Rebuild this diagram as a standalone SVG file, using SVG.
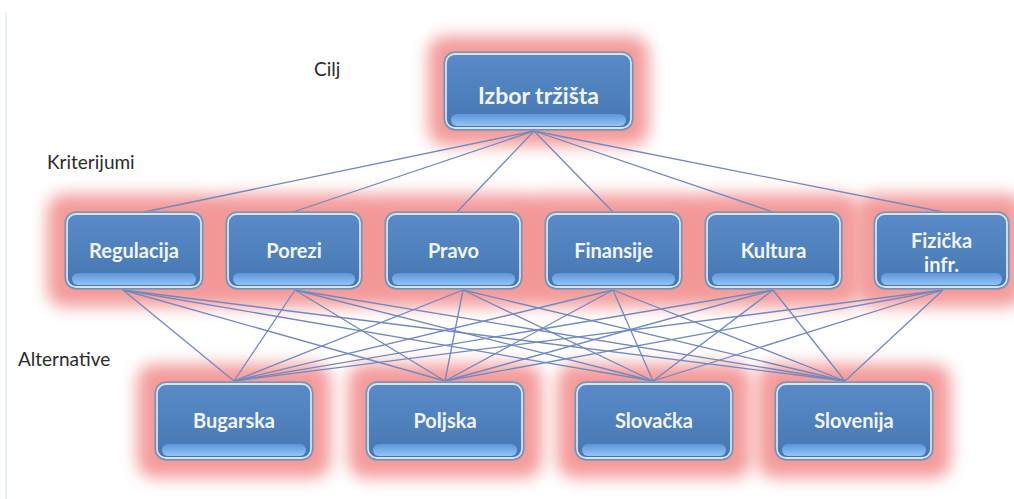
<svg xmlns="http://www.w3.org/2000/svg" width="1014" height="499" viewBox="0 0 1014 499">
  <defs>
    <linearGradient id="boxFill" x1="0" y1="0" x2="0" y2="1">
      <stop offset="0" stop-color="#5a8bc8"/>
      <stop offset="0.5" stop-color="#4f81bd"/>
      <stop offset="1" stop-color="#4676b2"/>
    </linearGradient>
    <linearGradient id="bandFill" x1="0" y1="0" x2="0" y2="1">
      <stop offset="0" stop-color="#5d95d8"/>
      <stop offset="1" stop-color="#92c5f6"/>
    </linearGradient>
    <filter id="glow" x="-30%" y="-40%" width="160%" height="180%">
      <feGaussianBlur stdDeviation="8"/>
    </filter>
    <style>
      .halo { fill: #f28a8a; opacity: 0.85; filter: url(#glow); }
      .box { fill: url(#boxFill); stroke: #8797ab; stroke-width: 1.3; }
      .rim { fill: none; stroke: #e6eef8; stroke-width: 1.8; opacity: 0.9; }
      .band { fill: url(#bandFill); }
      .lbl { font-family: Lato, "Open Sans", "Liberation Sans", sans-serif; font-weight: bold; fill: #f2f6fb; text-anchor: middle; }
      .crit { font-size: 20px; }
      .goal { font-size: 23px; }
      .level { font-family: Lato, "Open Sans", "Liberation Sans", sans-serif; font-size: 19px; fill: #2b2b2b; }
      .link { stroke: #7189c0; stroke-width: 1.3; fill: none; }
    </style>
  </defs>

  <rect width="1014" height="499" fill="#ffffff"/>
  <line x1="6" y1="12" x2="6" y2="499" stroke="#e4f2f2" stroke-width="2"/>

  <!-- level captions -->
  <text class="level" x="314" y="76">Cilj</text>
  <text class="level" x="47" y="169">Kriterijumi</text>
  <text class="level" x="18" y="366">Alternative</text>

  <!-- soft halos behind every box -->
  <g id="halos">
    <rect class="halo" x="428" y="36" width="221" height="110" rx="18"/>
    <rect class="halo" x="47" y="194" width="174" height="113" rx="18"/>
    <rect class="halo" x="208" y="194" width="172" height="113" rx="18"/>
    <rect class="halo" x="367" y="194" width="173" height="113" rx="18"/>
    <rect class="halo" x="527" y="194" width="173" height="113" rx="18"/>
    <rect class="halo" x="687" y="194" width="173" height="113" rx="18"/>
    <rect class="halo" x="856" y="194" width="168" height="113" rx="18"/>
    <rect class="halo" x="137" y="364" width="194" height="114" rx="18"/>
    <rect class="halo" x="348" y="364" width="194" height="114" rx="18"/>
    <rect class="halo" x="557" y="364" width="194" height="114" rx="18"/>
    <rect class="halo" x="757" y="364" width="194" height="114" rx="18"/>
  </g>

  <!-- connectors -->
  <g id="connectors" class="link">
    <!-- goal to criteria -->
    <line x1="534" y1="131" x2="144" y2="212"/>
    <line x1="534" y1="131" x2="293" y2="212"/>
    <line x1="534" y1="131" x2="457" y2="212"/>
    <line x1="534" y1="131" x2="613" y2="212"/>
    <line x1="534" y1="131" x2="773" y2="212"/>
    <line x1="534" y1="131" x2="943" y2="212"/>
    <!-- Regulacija to alternatives -->
    <line x1="123" y1="290" x2="234" y2="381"/>
    <line x1="123" y1="290" x2="445" y2="381"/>
    <line x1="123" y1="290" x2="653" y2="381"/>
    <line x1="123" y1="290" x2="845" y2="381"/>
    <!-- Porezi -->
    <line x1="295" y1="290" x2="234" y2="381"/>
    <line x1="295" y1="290" x2="445" y2="381"/>
    <line x1="295" y1="290" x2="653" y2="381"/>
    <line x1="295" y1="290" x2="845" y2="381"/>
    <!-- Pravo -->
    <line x1="463" y1="290" x2="234" y2="381"/>
    <line x1="463" y1="290" x2="445" y2="381"/>
    <line x1="463" y1="290" x2="653" y2="381"/>
    <line x1="463" y1="290" x2="845" y2="381"/>
    <!-- Finansije -->
    <line x1="613" y1="290" x2="234" y2="381"/>
    <line x1="613" y1="290" x2="445" y2="381"/>
    <line x1="613" y1="290" x2="653" y2="381"/>
    <line x1="613" y1="290" x2="845" y2="381"/>
    <!-- Kultura -->
    <line x1="773" y1="290" x2="234" y2="381"/>
    <line x1="773" y1="290" x2="445" y2="381"/>
    <line x1="773" y1="290" x2="653" y2="381"/>
    <line x1="773" y1="290" x2="845" y2="381"/>
    <!-- Fizička infr. -->
    <line x1="943" y1="290" x2="234" y2="381"/>
    <line x1="943" y1="290" x2="445" y2="381"/>
    <line x1="943" y1="290" x2="653" y2="381"/>
    <line x1="943" y1="290" x2="845" y2="381"/>
  </g>

  <!-- goal -->
  <g id="goal">
    <rect class="box" x="444" y="52" width="189" height="78" rx="11"/>
    <rect class="rim" x="446" y="54" width="185" height="74" rx="9"/>
    <rect class="band" x="451" y="114" width="175" height="12" rx="6"/>
    <text class="lbl goal" x="538.5" y="104">Izbor tržišta</text>
  </g>

  <!-- criteria -->
  <g id="regulacija">
    <rect class="box" x="65" y="212" width="138" height="77" rx="11"/>
    <rect class="rim" x="67" y="214" width="134" height="73" rx="9"/>
    <rect class="band" x="72" y="273" width="124" height="12" rx="6"/>
    <text class="lbl crit" x="134" y="258">Regulacija</text>
  </g>
  <g id="porezi">
    <rect class="box" x="226" y="212" width="136" height="77" rx="11"/>
    <rect class="rim" x="228" y="214" width="132" height="73" rx="9"/>
    <rect class="band" x="233" y="273" width="122" height="12" rx="6"/>
    <text class="lbl crit" x="294" y="258">Porezi</text>
  </g>
  <g id="pravo">
    <rect class="box" x="385" y="212" width="137" height="77" rx="11"/>
    <rect class="rim" x="387" y="214" width="133" height="73" rx="9"/>
    <rect class="band" x="392" y="273" width="123" height="12" rx="6"/>
    <text class="lbl crit" x="453.5" y="258">Pravo</text>
  </g>
  <g id="finansije">
    <rect class="box" x="545" y="212" width="137" height="77" rx="11"/>
    <rect class="rim" x="547" y="214" width="133" height="73" rx="9"/>
    <rect class="band" x="552" y="273" width="123" height="12" rx="6"/>
    <text class="lbl crit" x="613.5" y="258">Finansije</text>
  </g>
  <g id="kultura">
    <rect class="box" x="705" y="212" width="137" height="77" rx="11"/>
    <rect class="rim" x="707" y="214" width="133" height="73" rx="9"/>
    <rect class="band" x="712" y="273" width="123" height="12" rx="6"/>
    <text class="lbl crit" x="773.5" y="258">Kultura</text>
  </g>
  <g id="fizicka-infr">
    <rect class="box" x="874" y="212" width="135" height="77" rx="11"/>
    <rect class="rim" x="876" y="214" width="131" height="73" rx="9"/>
    <rect class="band" x="881" y="273" width="121" height="12" rx="6"/>
    <text class="lbl crit" x="941.5" y="248">Fizička</text>
    <text class="lbl crit" x="941.5" y="272">infr.</text>
  </g>

  <!-- alternatives -->
  <g id="bugarska">
    <rect class="box" x="155" y="382" width="158" height="78" rx="11"/>
    <rect class="rim" x="157" y="384" width="154" height="74" rx="9"/>
    <rect class="band" x="162" y="444" width="144" height="12" rx="6"/>
    <text class="lbl crit" x="234" y="428">Bugarska</text>
  </g>
  <g id="poljska">
    <rect class="box" x="366" y="382" width="158" height="78" rx="11"/>
    <rect class="rim" x="368" y="384" width="154" height="74" rx="9"/>
    <rect class="band" x="373" y="444" width="144" height="12" rx="6"/>
    <text class="lbl crit" x="445" y="428">Poljska</text>
  </g>
  <g id="slovacka">
    <rect class="box" x="575" y="382" width="158" height="78" rx="11"/>
    <rect class="rim" x="577" y="384" width="154" height="74" rx="9"/>
    <rect class="band" x="582" y="444" width="144" height="12" rx="6"/>
    <text class="lbl crit" x="654" y="428">Slovačka</text>
  </g>
  <g id="slovenija">
    <rect class="box" x="775" y="382" width="158" height="78" rx="11"/>
    <rect class="rim" x="777" y="384" width="154" height="74" rx="9"/>
    <rect class="band" x="782" y="444" width="144" height="12" rx="6"/>
    <text class="lbl crit" x="854" y="428">Slovenija</text>
  </g>
</svg>
